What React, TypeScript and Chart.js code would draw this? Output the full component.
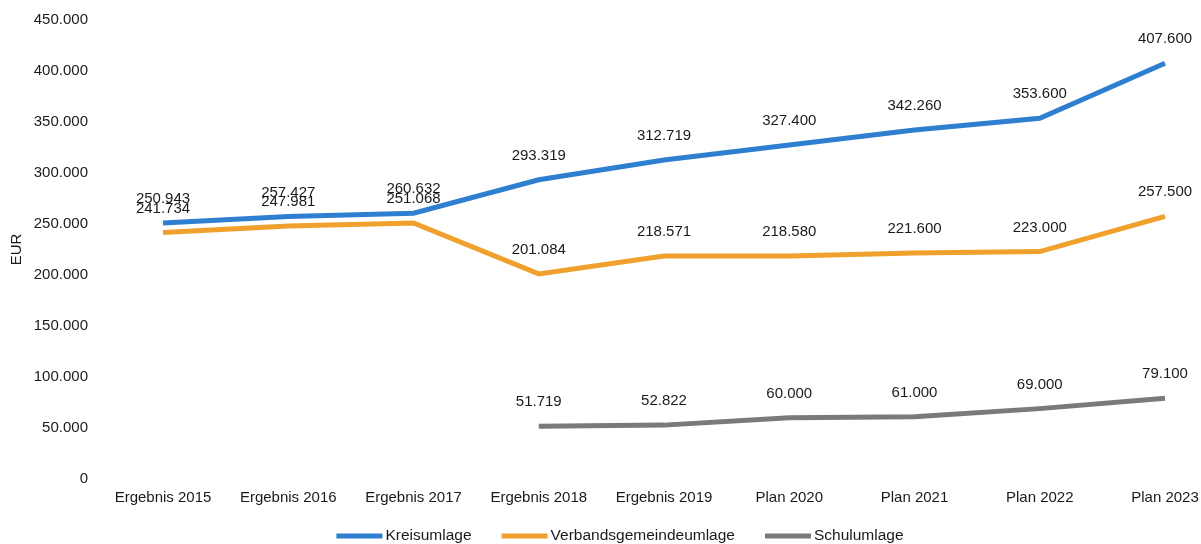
import React, { useEffect, useRef } from "react";
import { Chart, registerables } from "chart.js";

Chart.register(...registerables);

const categories = [
  "Ergebnis 2015",
  "Ergebnis 2016",
  "Ergebnis 2017",
  "Ergebnis 2018",
  "Ergebnis 2019",
  "Plan 2020",
  "Plan 2021",
  "Plan 2022",
  "Plan 2023",
];

const kreisumlage = [250943, 257427, 260632, 293319, 312719, 327400, 342260, 353600, 407600];
const verbandsgemeindeumlage = [241734, 247981, 251068, 201084, 218571, 218580, 221600, 223000, 257500];
const schulumlage = [null, null, null, 51719, 52822, 60000, 61000, 69000, 79100];

const yTicks = [0, 50000, 100000, 150000, 200000, 250000, 300000, 350000, 400000, 450000];

const FONT = "Arial, 'Liberation Sans', sans-serif";
const TEXT = "#1a1a1a";

function formatDe(v: number): string {
  const s = Math.round(Math.abs(v)).toString();
  const withDots = s.replace(/\B(?=(\d{3})+(?!\d))/g, ".");
  return (v < 0 ? "-" : "") + withDots;
}

// Draws each point's value above the point
const valueLabels = {
  id: "valueLabels",
  afterDatasetsDraw(chart: any) {
    const { ctx } = chart;
    ctx.save();
    ctx.font = `15px ${FONT}`;
    ctx.fillStyle = TEXT;
    ctx.textAlign = "center";
    ctx.textBaseline = "middle";
    chart.data.datasets.forEach((ds: any, di: number) => {
      const meta = chart.getDatasetMeta(di);
      meta.data.forEach((pt: any, i: number) => {
        const v = ds.data[i];
        if (v === null || v === undefined) return;
        ctx.fillText(formatDe(v), pt.x, pt.y - 24);
      });
    });
    ctx.restore();
  },
};

// Bottom legend: a long line sample followed by the series name
const lineLegend = {
  id: "lineLegend",
  afterDraw(chart: any) {
    const { ctx } = chart;
    const boxW = 46;
    const boxH = 5;
    const gap = 3;
    const itemGap = 30;
    const centerX = 620;
    const y = 536;
    ctx.save();
    ctx.font = `15.5px ${FONT}`;
    ctx.textBaseline = "middle";
    ctx.textAlign = "left";
    const items = chart.data.datasets.map((ds: any) => ({
      label: ds.label,
      color: ds.borderColor,
      w: boxW + gap + ctx.measureText(ds.label).width,
    }));
    const total = items.reduce((s: number, it: any) => s + it.w, 0) + itemGap * (items.length - 1);
    let x = centerX - total / 2;
    items.forEach((it: any) => {
      ctx.fillStyle = it.color;
      ctx.fillRect(x, y - boxH / 2, boxW, boxH);
      ctx.fillStyle = TEXT;
      ctx.fillText(it.label, x + boxW + gap, y);
      x += it.w + itemGap;
    });
    ctx.restore();
  },
};

export default function App() {
  const canvasRef = useRef<HTMLCanvasElement | null>(null);

  useEffect(() => {
    if (!canvasRef.current) return;
    const chart = new Chart(canvasRef.current, {
      type: "line",
      data: {
        labels: categories,
        datasets: [
          {
            label: "Kreisumlage",
            data: kreisumlage,
            borderColor: "#2f7fd1",
            backgroundColor: "#2f7fd1",
            borderWidth: 5,
            pointRadius: 0,
            tension: 0,
          },
          {
            label: "Verbandsgemeindeumlage",
            data: verbandsgemeindeumlage,
            borderColor: "#f0a02c",
            backgroundColor: "#f0a02c",
            borderWidth: 5,
            pointRadius: 0,
            tension: 0,
          },
          {
            label: "Schulumlage",
            data: schulumlage,
            borderColor: "#7a7a7a",
            backgroundColor: "#7a7a7a",
            borderWidth: 5,
            pointRadius: 0,
            tension: 0,
          },
        ],
      },
      options: {
        animation: false,
        responsive: false,
        layout: { padding: { top: 20, right: 28, left: 0, bottom: 27 } },
        plugins: {
          legend: { display: false },
          tooltip: { enabled: false },
        },
        scales: {
          x: {
            offset: false,
            afterFit(scale: any) {
              scale.paddingRight = 36;
            },
            grid: { display: false, drawTicks: false },
            border: { display: false },
            ticks: {
              color: TEXT,
              padding: 10,
              maxRotation: 0,
              autoSkip: false,
              font: { family: FONT, size: 15 },
            },
          },
          y: {
            min: 0,
            max: 450000,
            afterBuildTicks(scale: any) {
              scale.ticks = yTicks.map((v) => ({ value: v }));
            },
            afterFit(scale: any) {
              scale.width = 163;
            },
            grid: {
              display: true,
              drawOnChartArea: false,
              drawTicks: true,
              tickLength: 72,
              color: "rgba(0,0,0,0)",
            },
            border: { display: false },
            title: {
              display: true,
              text: "EUR",
              color: TEXT,
              font: { family: FONT, size: 15 },
              padding: { top: 8, bottom: 4 },
            },
            ticks: {
              color: TEXT,
              padding: 3,
              font: { family: FONT, size: 15 },
              callback: (v: any) => formatDe(Number(v)),
            },
          },
        },
      },
      plugins: [valueLabels, lineLegend],
    });
    return () => chart.destroy();
  }, []);

  return (
    <div style={{ position: "absolute", left: 0, top: 0, width: 1201, height: 544, background: "#fff" }}>
      <canvas ref={canvasRef} width={1201} height={544} />
    </div>
  );
}
